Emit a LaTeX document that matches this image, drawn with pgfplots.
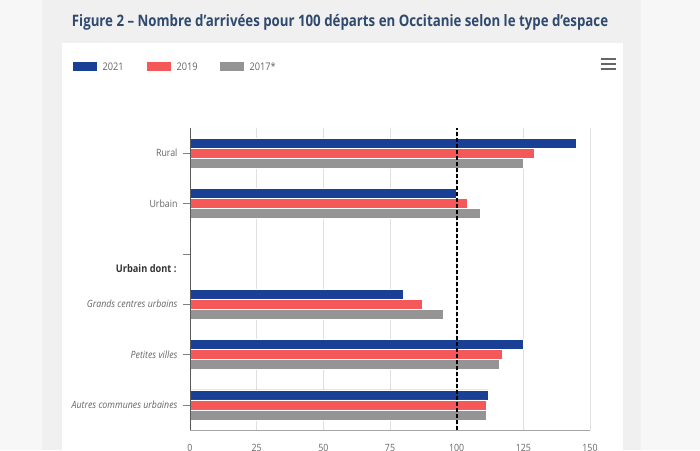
\documentclass[border=0pt]{standalone}
\usepackage{pgfplots}
\pgfplotsset{compat=1.18}
\usetikzlibrary{calc}
\usepackage{fontspec}
\setmainfont{Open Sans}
\newfontfamily\titlefont[FakeStretch=0.84]{Open Sans}
\newfontfamily\narrowfont[FakeStretch=0.88]{Open Sans}
\definecolor{c21}{RGB}{25,64,148}
\definecolor{c19}{RGB}{245,88,88}
\definecolor{c17}{RGB}{148,148,148}
\definecolor{titlec}{RGB}{48,74,110}
\definecolor{labc}{RGB}{102,102,102}
\begin{document}
\begin{tikzpicture}[x=1pt,y=1pt]
\clip (0,0) rectangle (700,450);
\fill[black!3] (0,0) rectangle (700,450);
\fill[black!6] (42,0) rectangle (641,450);
\fill[white] (62,0) rectangle (623,407);
% title
\node[font=\titlefont\fontsize{15.8}{18}\selectfont\bfseries, text=titlec] at (340,428) {Figure 2 – Nombre d’arrivées pour 100 départs en Occitanie selon le type d’espace};
% legend
\fill[c21] (73,379) rectangle (97,388);
\node[anchor=west, font=\narrowfont\fontsize{10.5}{12}\selectfont, text=labc] at (99,383.5) {2021};
\fill[c19] (147,379) rectangle (171,388);
\node[anchor=west, font=\narrowfont\fontsize{10.5}{12}\selectfont, text=labc] at (173,383.5) {2019};
\fill[c17] (220,379) rectangle (244,388);
\node[anchor=west, font=\narrowfont\fontsize{10.5}{12}\selectfont, text=labc] at (246,383.5) {2017*};
% menu icon
\foreach \yy in {381,386,391} \draw[black!60, line width=2pt] (601,\yy) -- (616,\yy);
\begin{axis}[
  at={(190pt,20pt)}, anchor=south west,
  scale only axis, width=400pt, height=302pt,
  xmin=0, xmax=150, ymin=-0.5, ymax=5.5,
  xtick={0,25,...,150},
  ytick={0,1,2,3,4,5},
  yticklabels={{\itshape Autres communes urbaines},{\itshape Petites villes},{\itshape Grands centres urbains},{},Urbain,Rural},
  axis x line*=bottom, axis y line*=left,
  x axis line style={-, draw=black!35},
  y axis line style={-, draw=black!65},
  xmajorgrids, grid style={black!12, line width=0.7pt},
  major x tick style={draw=none},
  major y tick style={draw=black!50},
  tick align=outside, major tick length=7pt,
  y tick label style={font=\narrowfont\fontsize{10}{12}\selectfont, text=labc, xshift=-2pt},
  x tick label style={font=\narrowfont\fontsize{10}{12}\selectfont, text=labc, yshift=-4pt},
  /pgf/number format/assume math mode=true,
  xbar, bar width=10pt,
  every axis plot/.append style={draw=white, line width=0.6pt},
  clip=false,
]
\addplot[fill=c21, bar shift=10pt] coordinates {(112,0) (125,1) (80,2) (100,4) (145,5)};
\addplot[fill=c19, bar shift=0pt] coordinates {(111,0) (117,1) (87,2) (104,4) (129,5)};
\addplot[fill=c17, bar shift=-10pt] coordinates {(111,0) (116,1) (95,2) (109,4) (125,5)};
\addplot[xbar=false, sharp plot, draw=black!65, line width=0.8pt] coordinates {(0,-0.5) (0,5.5)};
\addplot[xbar=false, sharp plot, draw=black, line width=1.8pt, dash pattern=on 4pt off 2pt] coordinates {(100,-0.5) (100,5.5)};
\node[anchor=east, font=\narrowfont\fontsize{10.5}{12}\selectfont\bfseries, text=black!80] at ($(axis cs:0,3)+(-10pt,-15pt)$) {Urbain dont :};
\end{axis}
\end{tikzpicture}
\end{document}
